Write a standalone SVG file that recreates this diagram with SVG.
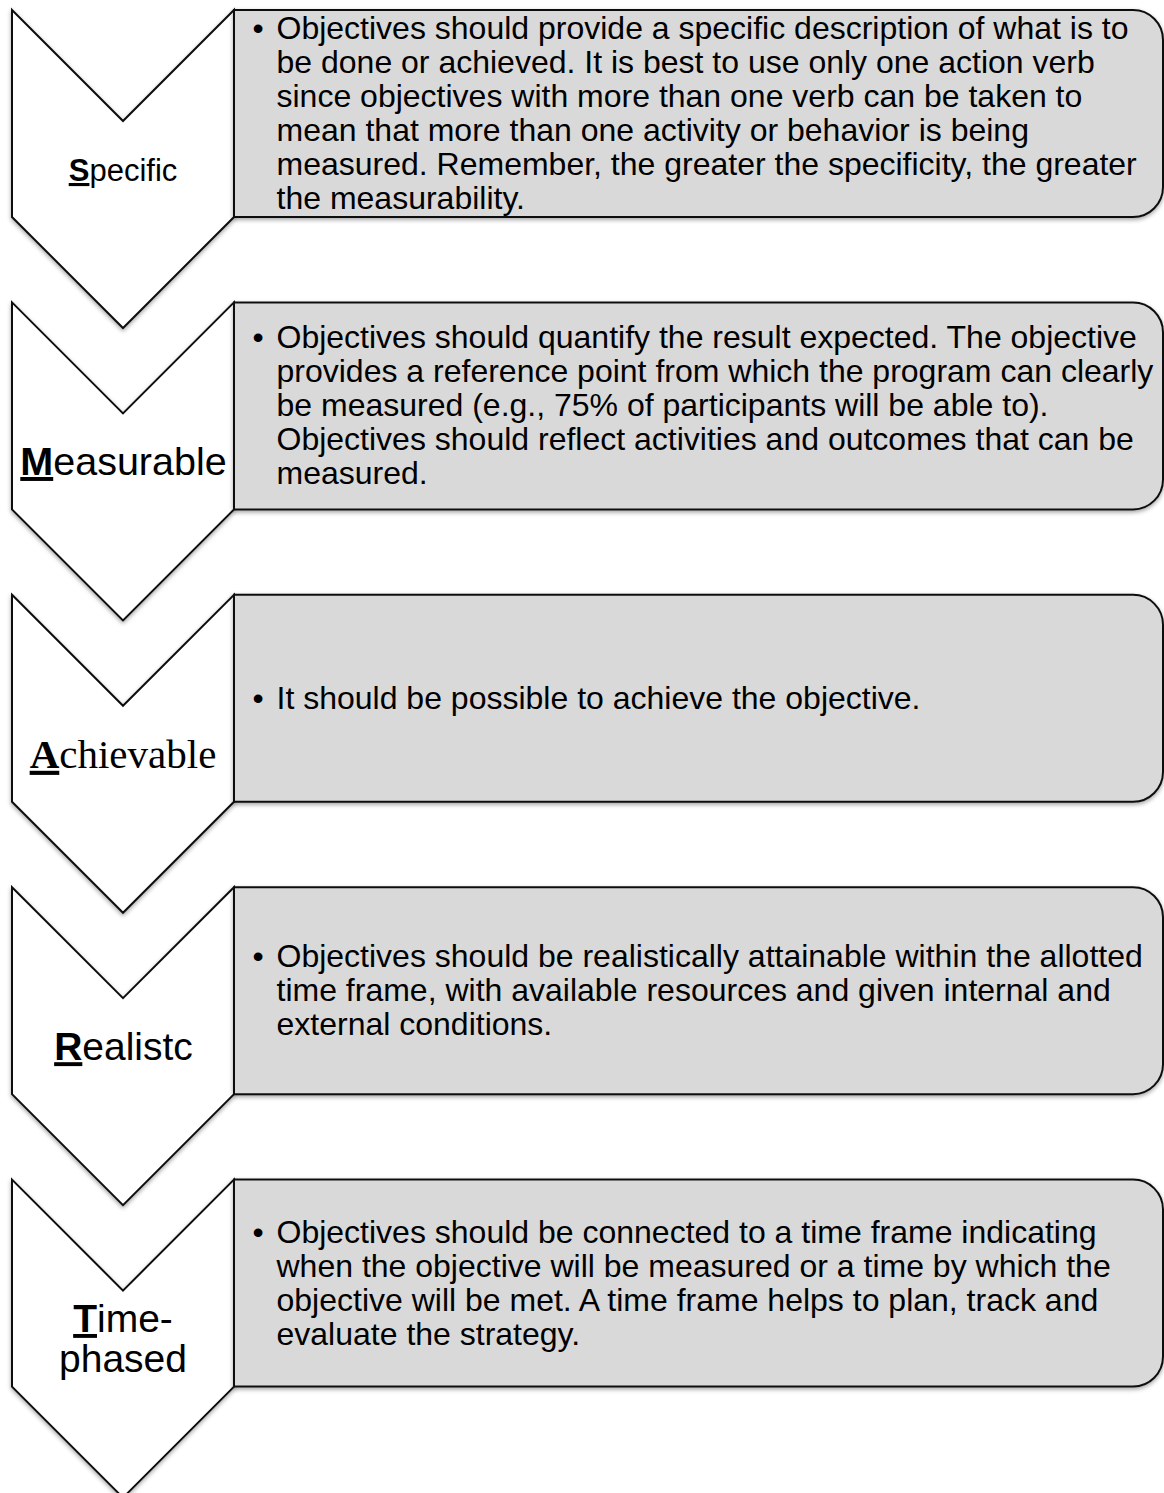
<svg xmlns="http://www.w3.org/2000/svg" width="1164" height="1493" viewBox="0 0 1164 1493">
  <style>
    .chev { fill: #ffffff; stroke: #111111; stroke-width: 2; stroke-linejoin: miter; filter: url(#shadow); }
    .box { fill: #d9d9d9; stroke: #111111; stroke-width: 2; filter: url(#shadow); }
    .body { font-family: "Liberation Sans", Arial, Helvetica, sans-serif; font-size: 32px; fill: #000000; }
    .lbl { font-family: "Liberation Sans", Arial, Helvetica, sans-serif; fill: #000000; text-anchor: middle; }
    .lbls { font-family: "Liberation Serif", "Times New Roman", serif; fill: #000000; text-anchor: middle; }
    .ini { font-weight: bold; text-decoration: underline; }
  </style>
  <defs>
    <filter id="shadow" x="-10%" y="-10%" width="120%" height="120%">
      <feDropShadow dx="0" dy="2" stdDeviation="2" flood-color="#000000" flood-opacity="0.35"/>
    </filter>
    <path id="chevShape" d="M12,0 L123,111 L234,0 L234,207 L123,318 L12,207 Z"/>
    <path id="boxShape" d="M234,0 H1133 A30,30 0 0 1 1163,30 V177 A30,30 0 0 1 1133,207 H234 Z"/>
  </defs>

  <g id="connectors"></g>

  <!-- Specific -->
  <g id="node-specific" transform="translate(0,10)">
    <use href="#chevShape" class="chev"/>
    <use href="#boxShape" class="box"/>
    <text class="lbl" x="123" y="171" font-size="31"><tspan class="ini">S</tspan>pecific</text>
    <g class="body">
      <text x="252.5" y="29">•</text>
      <text x="276.5" y="29">Objectives should provide a specific description of what is to</text>
      <text x="276.5" y="63">be done or achieved. It is best to use only one action verb</text>
      <text x="276.5" y="97">since objectives with more than one verb can be taken to</text>
      <text x="276.5" y="131">mean that more than one activity or behavior is being</text>
      <text x="276.5" y="165">measured. Remember, the greater the specificity, the greater</text>
      <text x="276.5" y="199">the measurability.</text>
    </g>
  </g>

  <!-- Measurable -->
  <g id="node-measurable" transform="translate(0,302.4)">
    <use href="#chevShape" class="chev"/>
    <use href="#boxShape" class="box"/>
    <text class="lbl" x="123.5" y="172.6" font-size="39.5"><tspan class="ini">M</tspan>easurable</text>
    <g class="body">
      <text x="252.5" y="46">•</text>
      <text x="276.5" y="46">Objectives should quantify the result expected. The objective</text>
      <text x="276.5" y="80">provides a reference point from which the program can clearly</text>
      <text x="276.5" y="114">be measured (e.g., 75% of participants will be able to).</text>
      <text x="276.5" y="148">Objectives should reflect activities and outcomes that can be</text>
      <text x="276.5" y="182">measured.</text>
    </g>
  </g>

  <!-- Achievable -->
  <g id="node-achievable" transform="translate(0,594.8)">
    <use href="#chevShape" class="chev"/>
    <use href="#boxShape" class="box"/>
    <text class="lbls" x="123" y="173" font-size="41"><tspan class="ini">A</tspan>chievable</text>
    <g class="body">
      <text x="252.5" y="114">•</text>
      <text x="276.5" y="114">It should be possible to achieve the objective.</text>
    </g>
  </g>

  <!-- Realistc -->
  <g id="node-realistic" transform="translate(0,887.2)">
    <use href="#chevShape" class="chev"/>
    <use href="#boxShape" class="box"/>
    <text class="lbl" x="123.5" y="173" font-size="39"><tspan class="ini">R</tspan>ealistc</text>
    <g class="body">
      <text x="252.5" y="80">•</text>
      <text x="276.5" y="80">Objectives should be realistically attainable within the allotted</text>
      <text x="276.5" y="114">time frame, with available resources and given internal and</text>
      <text x="276.5" y="148">external conditions.</text>
    </g>
  </g>

  <!-- Time-phased -->
  <g id="node-timephased" transform="translate(0,1179.6)">
    <use href="#chevShape" class="chev"/>
    <use href="#boxShape" class="box"/>
    <text class="lbl" x="123" y="152.4" font-size="39"><tspan class="ini">T</tspan>ime-</text>
    <text class="lbl" x="123" y="192.4" font-size="39">phased</text>
    <g class="body">
      <text x="252.5" y="63">•</text>
      <text x="276.5" y="63">Objectives should be connected to a time frame indicating</text>
      <text x="276.5" y="97">when the objective will be measured or a time by which the</text>
      <text x="276.5" y="131">objective will be met. A time frame helps to plan, track and</text>
      <text x="276.5" y="165">evaluate the strategy.</text>
    </g>
  </g>
</svg>
